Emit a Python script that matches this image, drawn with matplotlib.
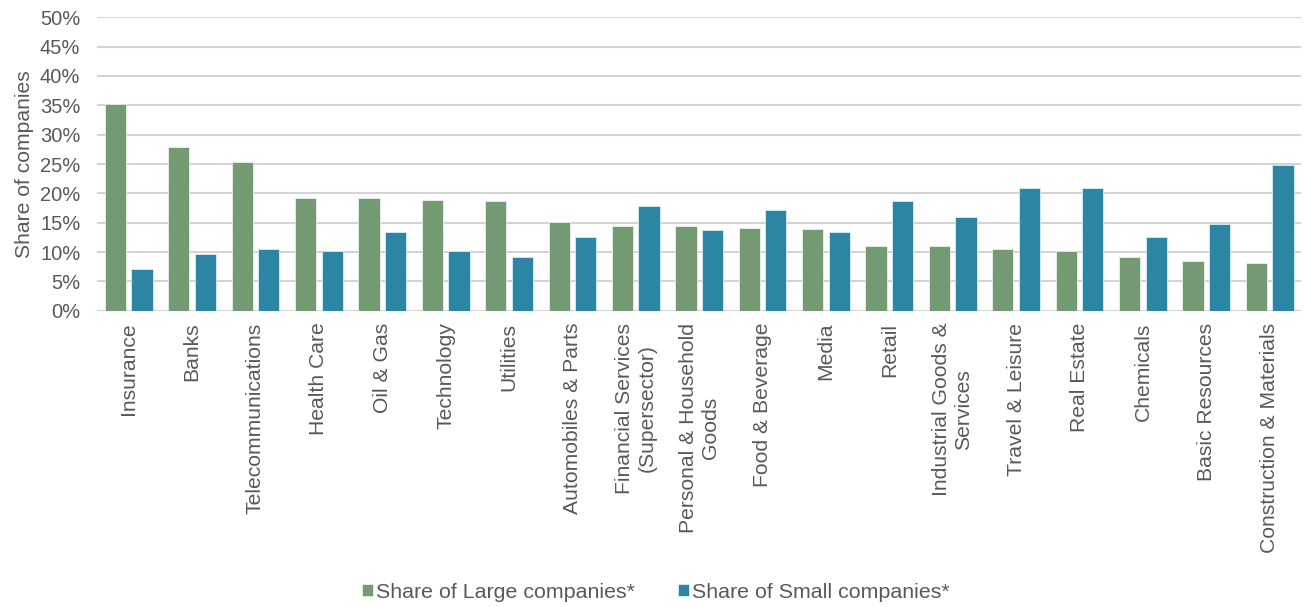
import matplotlib
matplotlib.use("Agg")
import matplotlib.pyplot as plt
import matplotlib.ticker as ticker
import numpy as np

plt.rcParams['font.family'] = ['Liberation Sans', 'DejaVu Sans']

sectors = ["Insurance", "Banks", "Telecommunications", "Health Care", "Oil & Gas",
           "Technology", "Utilities", "Automobiles & Parts",
           "Financial Services\n(Supersector)", "Personal & Household\nGoods",
           "Food & Beverage", "Media", "Retail", "Industrial Goods &\nServices",
           "Travel & Leisure", "Real Estate", "Chemicals", "Basic Resources",
           "Construction & Materials"]
large = [35.3, 27.9, 25.3, 19.2, 19.2, 18.9, 18.7, 15.2, 14.5, 14.5,
         14.1, 13.9, 11.1, 11.1, 10.6, 10.2, 9.1, 8.4, 8.2]
small = [7.2, 9.6, 10.6, 10.2, 13.5, 10.2, 9.1, 12.6, 17.8, 13.7,
         17.2, 13.5, 18.7, 15.9, 20.9, 20.9, 12.6, 14.8, 24.9]

green = "#739A72"
blue = "#2C86A3"
grey_txt = "#595959"

fig = plt.figure(figsize=(13.04, 6.07), dpi=100)
ax = fig.add_axes([0.0744, 0.488, 0.9236, 0.4835])

x = np.arange(len(sectors))
w = 0.335
b1 = ax.bar(x - 0.042 - w / 2, large, w, color=green, edgecolor="#E8F0E8", linewidth=0.6,
            label="Share of Large companies*", zorder=3)
b2 = ax.bar(x + 0.042 + w / 2, small, w, color=blue, edgecolor="#D8ECF2", linewidth=0.6,
            label="Share of Small companies*", zorder=3)

ax.set_xlim(-0.5, len(sectors) - 0.5)
ax.set_ylim(0, 50)
ax.yaxis.set_major_locator(ticker.MultipleLocator(5))
ax.yaxis.set_major_formatter(ticker.FuncFormatter(lambda v, p: f"{v:.0f}%"))
ax.grid(axis='y', color="#D4D4D4", linewidth=1.5, zorder=0)
for s in ax.spines.values():
    s.set_visible(False)

ax.set_xticks(x)
ax.set_xticklabels(sectors, rotation=90, multialignment='center', va='top', ha='center')
ax.tick_params(axis='both', length=0, colors=grey_txt)
ax.tick_params(axis='y', pad=12, labelsize=14.5)
ax.tick_params(axis='x', pad=8.5, labelsize=15.2)

ax.set_ylabel("Share of companies", fontsize=15.2, color=grey_txt, labelpad=4)

fig.legend(handles=[b1, b2], loc='center', bbox_to_anchor=(0.503, 1 - 592 / 607), ncol=2,
           frameon=False, fontsize=15.4, labelcolor=grey_txt, handlelength=0.51,
           handleheight=0.51, handletextpad=0.16, columnspacing=2.0)

fig.savefig("out.png", dpi=100)
